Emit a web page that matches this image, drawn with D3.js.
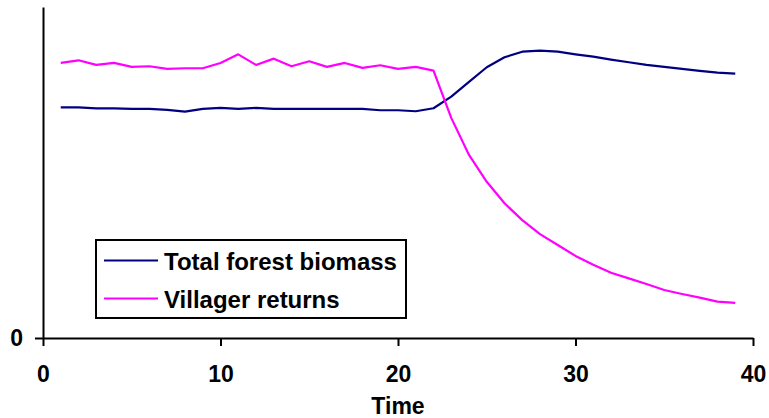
<!DOCTYPE html>
<html>
<head>
<meta charset="utf-8">
<script src="https://cdn.jsdelivr.net/npm/d3@7"></script>
<style>
  html, body { margin: 0; padding: 0; background: #fff; }
  svg { display: block; font-family: "Liberation Sans", Arial, sans-serif; }
</style>
</head>
<body>
<svg id="chart" width="769" height="418"></svg>
<script>
// Simulation output, one value per time step (t = 1..39)
const time = d3.range(1, 40);
const forestBiomass = [
  69.7, 69.7, 69.4, 69.4, 69.2, 69.2, 68.9, 68.4, 69.2, 69.5,
  69.2, 69.5, 69.2, 69.2, 69.2, 69.2, 69.2, 69.2, 68.8, 68.8,
  68.5, 69.4, 72.9, 77.4, 81.8, 84.8, 86.5, 86.8, 86.5, 85.7,
  85.0, 84.1, 83.3, 82.5, 81.9, 81.3, 80.7, 80.2, 79.9
];
const villagerReturns = [
  83.1, 83.9, 82.5, 83.1, 81.9, 82.1, 81.3, 81.5, 81.5, 83.1,
  85.7, 82.5, 84.4, 82.1, 83.6, 81.9, 83.1, 81.6, 82.4, 81.3,
  81.9, 80.8, 66.5, 55.3, 47.2, 40.7, 35.6, 31.4, 28.1, 24.8,
  22.1, 19.7, 18.0, 16.3, 14.5, 13.3, 12.2, 11.0, 10.6
];
const seriesNames = ["Total forest biomass", "Villager returns"];
const seriesColors = ["#000080", "#FF00FF"];
const xTicks = [0, 10, 20, 30, 40];
const yTicks = [0];

const svg = d3.select("#chart");
const x = d3.scaleLinear().domain([0, 40]).range([43, 753]);
const y = d3.scaleLinear().domain([0, 100]).range([338, 7]);

// Axes
const xAxis = svg.append("g")
  .attr("transform", `translate(0,${y(0)})`)
  .call(d3.axisBottom(x).tickValues(xTicks).tickSize(8).tickSizeOuter(0).tickPadding(20));
const yAxis = svg.append("g")
  .attr("transform", `translate(${x(0)},0)`)
  .call(d3.axisLeft(y).tickValues(yTicks).tickSize(8).tickSizeOuter(0).tickPadding(12));

[xAxis, yAxis].forEach(g => {
  g.select(".domain").attr("stroke", "#000").attr("stroke-width", 2);
  g.selectAll(".tick line").attr("stroke", "#000").attr("stroke-width", 2);
  g.selectAll(".tick text")
    .attr("fill", "#000")
    .style("font-size", "23px")
    .style("font-weight", "bold")
    .style("font-family", "'Liberation Sans', Arial, sans-serif");
});

svg.append("text")
  .attr("x", (x(0) + x(40)) / 2)
  .attr("y", 414)
  .attr("text-anchor", "middle")
  .style("font-size", "23px")
  .style("font-weight", "bold")
  .text("Time");

// Series lines
const line = d3.line().x((d, i) => x(time[i])).y(d => y(d));
[forestBiomass, villagerReturns].forEach((vals, k) => {
  svg.append("path")
    .datum(vals)
    .attr("fill", "none")
    .attr("stroke", seriesColors[k])
    .attr("stroke-width", 2.2)
    .attr("stroke-linejoin", "round")
    .attr("d", line);
});

// Legend
const legend = svg.append("g");
legend.append("rect")
  .attr("x", 96).attr("y", 240)
  .attr("width", 310).attr("height", 78)
  .attr("fill", "#fff")
  .attr("stroke", "#000")
  .attr("stroke-width", 2);
seriesNames.forEach((name, k) => {
  const cy = 260.5 + k * 38;
  legend.append("line")
    .attr("x1", 104).attr("x2", 158)
    .attr("y1", cy).attr("y2", cy)
    .attr("stroke", seriesColors[k])
    .attr("stroke-width", 2);
  legend.append("text")
    .attr("x", 164)
    .attr("y", cy + 9)
    .style("font-size", "24px")
    .style("font-weight", "bold")
    .text(name);
});
</script>
</body>
</html>
